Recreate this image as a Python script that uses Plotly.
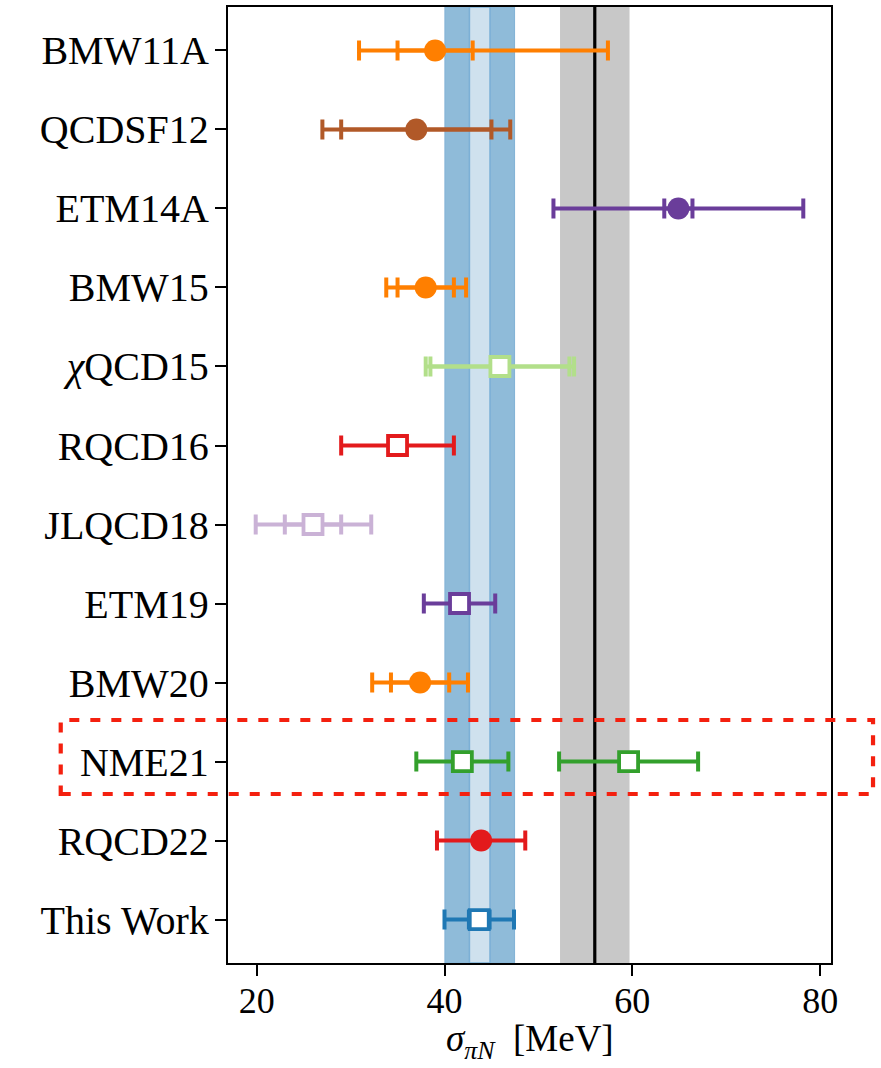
import plotly.graph_objects as go

# Row labels, top to bottom
labels = ["BMW11A", "QCDSF12", "ETM14A", "BMW15", "<i>χ</i>QCD15", "RQCD16",
          "JLQCD18", "ETM19", "BMW20", "NME21", "RQCD22", "This Work"]

# One entry per plotted point (NME21 has two determinations)
point_row = [0, 1, 2, 3, 4, 5, 6, 7, 8, 9, 9, 10, 11]
point_val = [39.0, 37.0, 64.9, 38.0, 45.9, 35.0, 26.0, 41.6, 37.4, 41.9, 59.6, 43.9, 43.7]
# statistical (inner) errors; None where only a total error is quoted
inner_err = [4.0, 8.0, 1.5, 3.0, 7.4, None, 3.0, None, 3.1, None, None, None, 1.1]
# total (outer) errors, lower / upper
outer_lo = [8.1, 10.0, 13.3, 4.2, 7.9, 6.0, 6.1, 3.8, 5.1, 4.9, 7.4, 4.7, 3.7]
outer_hi = [18.4, 10.0, 13.3, 4.3, 7.9, 6.0, 6.2, 3.8, 5.1, 4.9, 7.4, 4.7, 3.7]
point_color = ["#ff7f00", "#b15928", "#6a3d9a", "#ff7f00", "#b2df8a", "#e31a1c",
               "#cab2d6", "#6a3d9a", "#ff7f00", "#33a02c", "#33a02c", "#e31a1c", "#1f78b4"]
point_filled = [True, True, True, True, False, False, False, False, True,
                False, False, True, False]

# Bands: this work (stat / total) and phenomenological value
this_center, this_stat, this_tot = 43.75, 1.1, 3.7
pheno_center, pheno_err = 56.0, 3.7

fig = go.Figure()

for i in range(len(point_val)):
    y = point_row[i]
    x = point_val[i]
    col = point_color[i]
    # total error bar
    fig.add_trace(go.Scatter(
        x=[x], y=[y], mode="markers",
        marker=dict(size=1, color="rgba(0,0,0,0)"),
        error_x=dict(type="data", symmetric=False, array=[outer_hi[i]],
                     arrayminus=[outer_lo[i]], color=col, thickness=4, width=10),
        showlegend=False, hoverinfo="skip"))
    # marker with statistical error bar
    ex = None
    if inner_err[i] is not None:
        ex = dict(type="data", array=[inner_err[i]], color=col, thickness=4, width=10)
    if point_filled[i]:
        mk = dict(symbol="circle", size=22, color=col, line=dict(width=0))
    else:
        mk = dict(symbol="square", size=19, color="white", line=dict(width=3.8, color=col))
    fig.add_trace(go.Scatter(x=[x], y=[y], mode="markers", marker=mk,
                             error_x=ex, showlegend=False))

shapes = [
    # this work: total band
    dict(type="rect", xref="x", yref="paper", x0=this_center - this_tot,
         x1=this_center + this_tot, y0=0, y1=1, fillcolor="#8fbbd9",
         line=dict(width=1.2, color="#84b4d6"), layer="below"),
    # this work: statistical band
    dict(type="rect", xref="x", yref="paper", x0=this_center - this_stat,
         x1=this_center + this_stat, y0=0, y1=1, fillcolor="#cfe1ee",
         line=dict(width=1.6, color="#7cb0d6"), layer="below"),
    # phenomenology band and central value
    dict(type="rect", xref="x", yref="paper", x0=pheno_center - pheno_err,
         x1=pheno_center + pheno_err, y0=0, y1=1, fillcolor="#c8c8c8",
         line=dict(width=0), layer="below"),
    dict(type="line", xref="x", yref="paper", x0=pheno_center, x1=pheno_center,
         y0=0, y1=1, line=dict(width=3.2, color="black"), layer="below"),
    # highlight box around NME21
    dict(type="rect", xref="paper", yref="paper", x0=-0.2774, x1=1.0697,
         y0=0.1768, y1=0.2542, fillcolor="rgba(0,0,0,0)",
         line=dict(width=4.2, color="#f4200f", dash="10px,11px"), layer="above"),
]

font_family = "Liberation Serif"
fig.update_layout(
    width=881, height=1068,
    margin=dict(l=228, r=50, t=7, b=105, autoexpand=False),
    paper_bgcolor="white", plot_bgcolor="white",
    font=dict(family=font_family, size=40, color="black"),
    shapes=shapes,
    showlegend=False,
    # x-axis title placed below the tick labels
    annotations=[dict(text="<i>σ</i><sub><i>πN</i></sub>  [MeV]",
                      xref="paper", yref="paper", x=0.5, y=-0.1085,
                      xanchor="center", yanchor="bottom", showarrow=False,
                      font=dict(size=37))],
)
fig.update_xaxes(
    range=[16.95, 81.15], tickvals=[20, 40, 60, 80], automargin=False,
    tickfont=dict(size=36), ticklabelstandoff=-6,
    showgrid=False, zeroline=False,
    showline=True, linewidth=2.4, linecolor="black", mirror=True,
    ticks="outside", ticklen=11, tickwidth=2, tickcolor="black",
)
fig.update_yaxes(
    range=[11.55, -0.55], tickvals=list(range(len(labels))), ticktext=labels,
    automargin=False,
    showgrid=False, zeroline=False,
    showline=True, linewidth=2.4, linecolor="black", mirror=True,
    ticks="outside", ticklen=11, tickwidth=2, tickcolor="black",
    ticklabelstandoff=-2,
)

fig.write_html("out.html")
